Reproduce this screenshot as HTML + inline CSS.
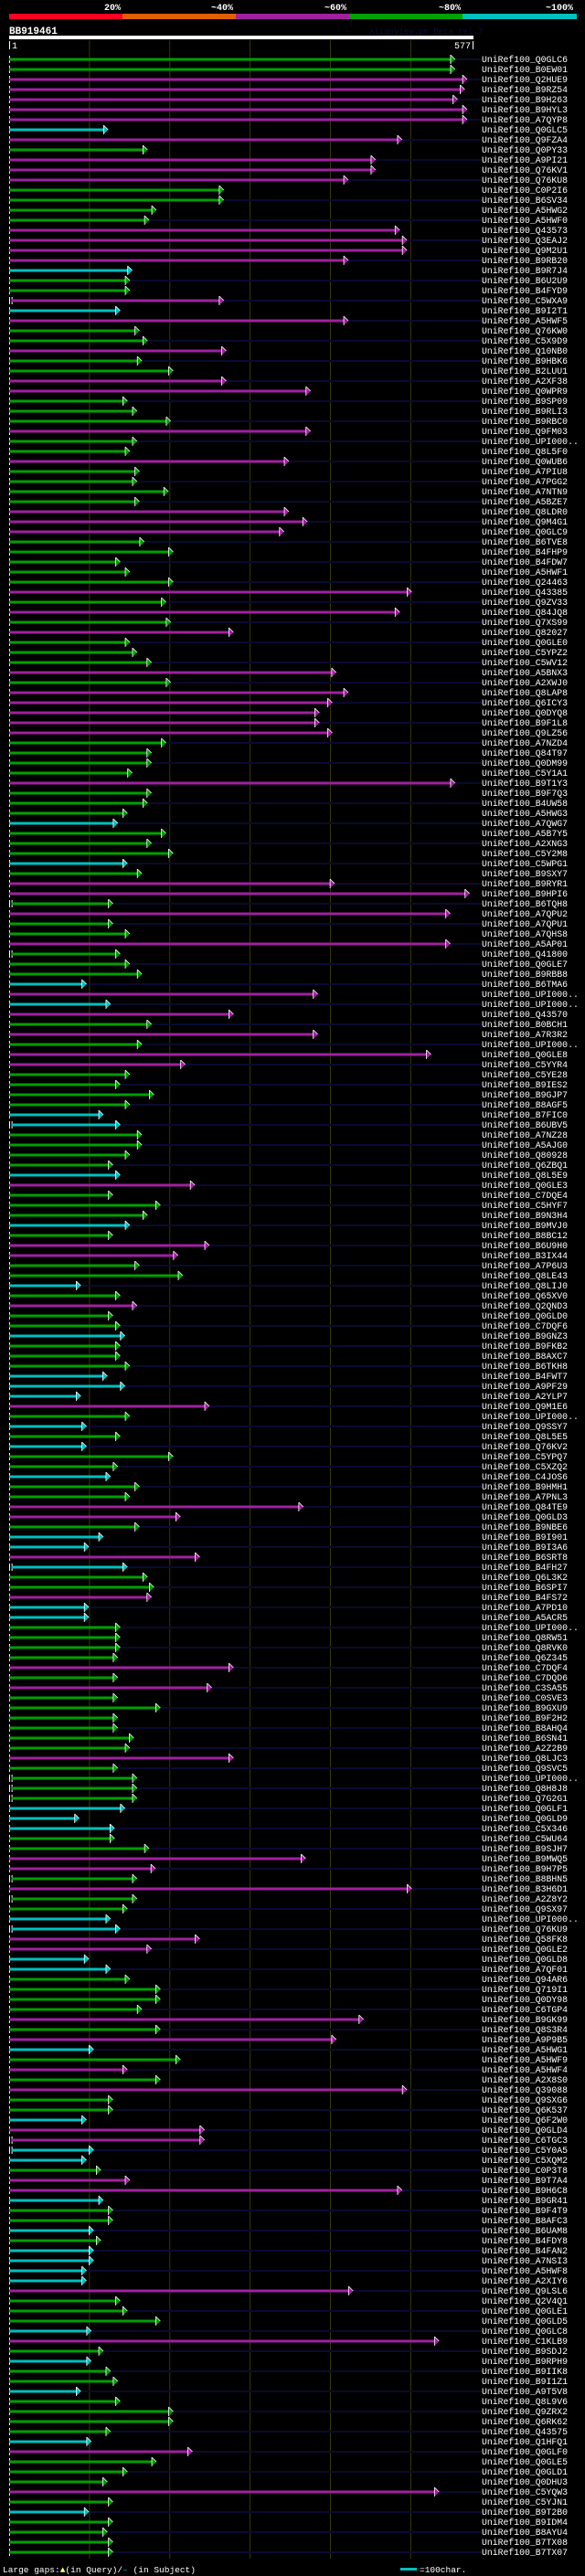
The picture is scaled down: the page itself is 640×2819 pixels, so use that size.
<!DOCTYPE html>
<html><head><meta charset="utf-8">
<style>
html,body{margin:0;padding:0;background:#000;}
body{width:640px;height:2819px;overflow:hidden;}
svg{display:block;}
text{font-family:"Liberation Mono","DejaVu Sans Mono",monospace;}
</style></head>
<body>
<svg id="chart" width="640" height="2819" viewBox="0 0 640 2819" xmlns="http://www.w3.org/2000/svg">
<rect x="0" y="0" width="640" height="2819" fill="#000"/>
<g>
<rect x="10" y="15" width="124" height="6" fill="#ff0022"/>
<rect x="134" y="15" width="124" height="6" fill="#e06000"/>
<rect x="258" y="15" width="124" height="6" fill="#a020a0"/>
<rect x="382" y="15" width="124" height="6" fill="#00a000"/>
<rect x="506" y="15" width="125" height="6" fill="#00c0c0"/>
<g fill="#fff" font-size="10" font-weight="bold" text-anchor="middle">
<text x="123" y="11">20%</text>
<text x="243" y="11">~40%</text>
<text x="367" y="11">~60%</text>
<text x="492" y="11">~80%</text>
<text x="612" y="11">~100%</text>
</g>
</g>
<text x="10" y="37" fill="#fff" font-size="11" font-weight="bold">BB919461</text>
<text x="404" y="37" fill="#0c0c40" font-size="9">AlignView.pm Beta rel.7</text>
<rect x="10" y="39" width="508" height="4" fill="#fff"/>
<rect x="10" y="45" width="1" height="9" fill="#fff"/>
<text x="13" y="53" fill="#fff" font-size="10">1</text>
<text x="515" y="53" fill="#fff" font-size="10" text-anchor="end">577</text>
<rect x="517" y="45" width="1" height="9" fill="#fff"/>
<g id="grid"></g>
<g id="rows"></g>
<g>
<text x="3" y="2815" fill="#fff" font-size="9.5">Large gaps:<tspan fill="#ffff80">▲</tspan>(in Query)/<tspan fill="#00c0c0">–</tspan> (in Subject)</text>
<rect x="438" y="2810" width="18" height="3" fill="#00c0c0"/>
<text x="459" y="2815" fill="#fff" font-size="9.5">=100char.</text>
</g>
</svg>
<script>
const queryLength = 577;
const gridTicks = [100, 200, 300, 400, 500];
const hitNames = ["Q0GLC6","B0EW01","Q2HUE9","B9RZ54","B9H263","B9HYL3","A7QYP8","Q0GLC5","Q9FZA4","Q0PY33","A9PI21","Q76KV1","Q76KU8","C0P2I6","B6SV34","A5HWG2","A5HWF0","Q43573","Q3EAJ2","Q9M2U1","B9RB20","B9R7J4","B6U2U9","B4FYD9","C5WXA9","B9I2T1","A5HWF5","Q76KW0","C5X9D9","Q10NB0","B9HBK6","B2LUU1","A2XF38","Q0WPR9","B9SP09","B9RLI3","B9RBC0","Q9FM03","UPI000..","Q8L5F0","Q0WUB6","A7PIU8","A7PGG2","A7NTN9","A5BZE7","Q8LDR0","Q9M4G1","Q0GLC9","B6TVE8","B4FHP9","B4FDW7","A5HWF1","Q24463","Q43385","Q9ZV33","Q84JQ8","Q7XS99","Q82027","Q0GLE0","C5YPZ2","C5WV12","A5BNX3","A2XWJ0","Q8LAP8","Q6ICY3","Q0DYQ8","B9F1L8","Q9LZ56","A7NZD4","Q84T97","Q0DM99","C5Y1A1","B9T1Y3","B9F7Q3","B4UW58","A5HWG3","A7QWG7","A5B7Y5","A2XNG3","C5Y2M8","C5WPG1","B9SXY7","B9RYR1","B9HPI6","B6TQH8","A7QPU2","A7QPU1","A7QHS8","A5AP01","Q41800","Q0GLE7","B9RBB8","B6TMA6","UPI000..","UPI000..","Q43570","B0BCH1","A7R3R2","UPI000..","Q0GLE8","C5YYR4","C5YE28","B9IES2","B9GJP7","B8AGF5","B7FIC0","B6UBV5","A7NZ28","A5AJG0","Q80928","Q6ZBQ1","Q8L5E9","Q0GLE3","C7DQE4","C5HYF7","B9N3H4","B9MVJ0","B8BC12","B6U9H0","B3IX44","A7P6U3","Q8LE43","Q8LIJ0","Q65XV0","Q2QND3","Q0GLD0","C7DQF6","B9GNZ3","B9FKB2","B8AXC7","B6TKH8","B4FWT7","A9PF29","A2YLP7","Q9M1E6","UPI000..","Q9SSY7","Q8L5E5","Q76KV2","C5YPQ7","C5XZQ2","C4JOS6","B9HMH1","A7PNL3","Q84TE9","Q0GLD3","B9NBE6","B9I901","B9I3A6","B6SRT8","B4FH27","Q6L3K2","B6SPI7","B4FS72","A7PD10","A5ACR5","UPI000..","Q8RW51","Q8RVK0","Q6Z345","C7DQF4","C7DQD6","C3SA55","C0SVE3","B9GXU9","B9F2H2","B8AHQ4","B6SN41","A2Z2B9","Q8LJC3","Q9SVC5","UPI000..","Q8H8J8","Q7G2G1","Q0GLF1","Q0GLD9","C5X346","C5WU64","B9SJH7","B9MWQ5","B9H7P5","B8BHN5","B3H6D1","A2Z8Y2","Q9SX97","UPI000..","Q76KU9","Q58FK8","Q0GLE2","Q0GLD8","A7QF01","Q94AR6","Q719I1","Q0DY98","C6TGP4","B9GK99","Q8S3R4","A9P9B5","A5HWG1","A5HWF9","A5HWF4","A2X8S0","Q39088","Q9SXG6","Q6K537","Q6F2W0","Q0GLD4","C6TGC3","C5Y0A5","C5XQM2","C0P3T8","B9T7A4","B9H6C8","B9GR41","B9F4T9","B8AFC3","B6UAM8","B4FDY8","B4FAN2","A7NSI3","A5HWF8","A2XIY6","Q9LSL6","Q2V4Q1","Q0GLE1","Q0GLD5","Q0GLC8","C1KLB9","B9SDJ2","B9RPH9","B9IIK8","B9I1Z1","A9T5V8","Q8L9V6","Q9ZRX2","Q6RK62","Q43575","Q1HFQ1","Q0GLF0","Q0GLE5","Q0GLD1","Q0DHU3","C5YQW3","C5YJN1","B9T2B0","B9IDM4","B8AYU4","B7TX08","B7TX07"];
const hitIdentity = ["ggmmmmmcmg","mmmggggmmm","mcggmcmggm","ggmmgggmgg","mggggmmmgg","gggmgmgmgg","gmgmmmmmgg","ggmgggcggg","cgmmgmggmg","ggcmcmgmgm",
  "mggggccggg","gcmgggcgmm","ggcgmggcgg","gcccmgcgcg","gcggmmgccm","cggmccgggg","mgmggggggm","ggggcccggm","mgmggccmmc","cggggmgmcg",
  "mgmggcmmcc","gmmcggcgcc","ccmgggcmgc","ggcggggcmg","ggmgcgggg"].join("");
const hitStart = [1,1,1,1,1,1,1,1,1,1,1,1,1,1,1,1,1,1,1,1,1,1,1,1,4,1,1,1,1,1,1,1,1,1,1,1,1,1,1,1,1,1,1,1,1,1,1,1,1,1,1,1,1,1,1,1,1,1,1,1,1,1,1,1,1,1,1,1,1,1,1,1,1,1,1,1,1,1,1,1,1,1,1,1,4,1,1,1,1,4,1,1,1,1,1,1,1,1,1,1,1,1,1,1,1,1,4,1,1,1,1,1,1,1,1,1,1,1,1,1,1,1,1,1,1,1,1,1,1,1,1,1,1,1,1,1,1,1,1,1,1,1,1,1,1,1,1,1,1,1,4,1,1,1,1,1,1,1,1,1,1,1,1,1,1,1,1,1,1,1,1,4,4,4,1,1,1,1,1,1,1,4,1,4,1,1,4,1,1,1,1,1,1,1,1,1,1,1,1,1,1,1,1,1,1,1,1,4,4,1,1,1,1,1,1,1,1,1,1,1,1,1,1,1,1,1,1,1,1,1,1,1,1,1,1,1,1,1,1,1,1,1,1,1,1,1,1,1,1,1,1,1,1,1];
const hitEnd = [553,553,568,565,556,568,568,121,487,170,454,454,420,265,265,181,172,484,493,493,420,151,148,148,265,136,420,160,
170,268,163,202,268,373,145,157,199,373,157,148,346,160,157,196,160,346,369,340,166,202,136,148,202,499,193,484,
199,277,148,157,175,405,199,420,400,384,384,400,193,175,175,151,553,175,170,145,133,193,175,202,145,163,403,
571,127,547,127,148,547,136,148,163,94,382,124,277,175,382,163,523,217,148,136,178,148,115,136,163,163,148,127,
136,229,127,186,170,148,127,247,208,160,214,87,136,157,127,136,142,136,136,148,120,142,87,247,148,94,136,94,
202,133,124,160,148,364,211,160,115,97,235,145,170,178,175,97,97,136,136,136,133,277,133,250,133,186,133,133,
153,148,277,133,157,157,157,142,85,129,129,172,367,180,157,499,157,145,124,136,235,175,97,124,148,186,186,
163,439,186,405,103,211,145,186,493,127,127,94,241,241,103,94,112,148,487,115,127,127,103,112,103,103,94,94,
426,136,145,186,100,533,115,100,124,133,87,136,202,202,124,100,226,181,145,120,533,127,97,127,120,127,127];

const X0 = 10, XSCALE = 507 / queryLength, ROW0 = 64.7, ROWH = 11, LABELX = 527;
const xOf = c => X0 + c * XSCALE;
const yOf = i => ROW0 + i * ROWH;
const COLORS = {g: "#00a000", m: "#a020a0", c: "#00c0c0"};
const NS = "http://www.w3.org/2000/svg";
const gridG = document.getElementById("grid");
const rowsG = document.getElementById("rows");

gridTicks.forEach(t => {
  const l = document.createElementNS(NS, "line");
  l.setAttribute("x1", xOf(t)); l.setAttribute("x2", xOf(t));
  l.setAttribute("y1", 44); l.setAttribute("y2", 2800);
  l.setAttribute("stroke", "#38380c"); l.setAttribute("stroke-width", "1");
  
  
  gridG.appendChild(l);
});

hitNames.forEach((name, i) => {
  const y = Math.round(yOf(i));
  const g = document.createElementNS(NS, "g");
  
  
  if (i % 2 === 0) {
    const nv = document.createElementNS(NS, "rect");
    nv.setAttribute("x", X0); nv.setAttribute("y", y - 1);
    nv.setAttribute("width", LABELX - X0); nv.setAttribute("height", 2);
    nv.setAttribute("fill", "#0a0a30");
    
    
    g.appendChild(nv);
  }
  const tick = document.createElementNS(NS, "rect");
  tick.setAttribute("x", X0); tick.setAttribute("y", y - 4);
  tick.setAttribute("width", 1); tick.setAttribute("height", 8);
  tick.setAttribute("fill", "#fff");
  
  
  g.appendChild(tick);
  const col = COLORS[hitIdentity[i]] || "#00a000";
  const xs = xOf(hitStart[i] - 1), xe = xOf(hitEnd[i]);
  if (hitStart[i] > 1) {
    const st = document.createElementNS(NS, "rect");
    st.setAttribute("x", xs); st.setAttribute("y", y - 4);
    st.setAttribute("width", 1); st.setAttribute("height", 8);
    st.setAttribute("fill", "#fff");
    
    
    g.appendChild(st);
  }
  const bar = document.createElementNS(NS, "rect");
  bar.setAttribute("x", xs); bar.setAttribute("y", y - 1.5);
  bar.setAttribute("width", Math.max(0, xe - xs - 2)); bar.setAttribute("height", 3);
  bar.setAttribute("fill", col);
  
  
  g.appendChild(bar);
  const tri = document.createElementNS(NS, "path");
  tri.setAttribute("d", `M${xe - 3},${y - 5} L${xe + 2},${y} L${xe - 3},${y + 5} Z`);
  tri.setAttribute("fill", col);
  
  
  g.appendChild(tri);
  const edge = document.createElementNS(NS, "path");
  edge.setAttribute("d", `M${xe - 3},${y - 5} L${xe - 3},${y + 5} M${xe - 3},${y - 5} L${xe + 2},${y}`);
  edge.setAttribute("stroke", "#fff"); edge.setAttribute("stroke-width", "0.8"); edge.setAttribute("fill", "none");
  
  
  g.appendChild(edge);
  const t = document.createElementNS(NS, "text");
  t.setAttribute("x", LABELX); t.setAttribute("y", y + 3);
  t.setAttribute("fill", "#fff"); t.setAttribute("font-size", "9.8");
  t.textContent = "UniRef100_" + name;
  
  
  g.appendChild(t);
  rowsG.appendChild(g);
});
</script>
</body></html>
